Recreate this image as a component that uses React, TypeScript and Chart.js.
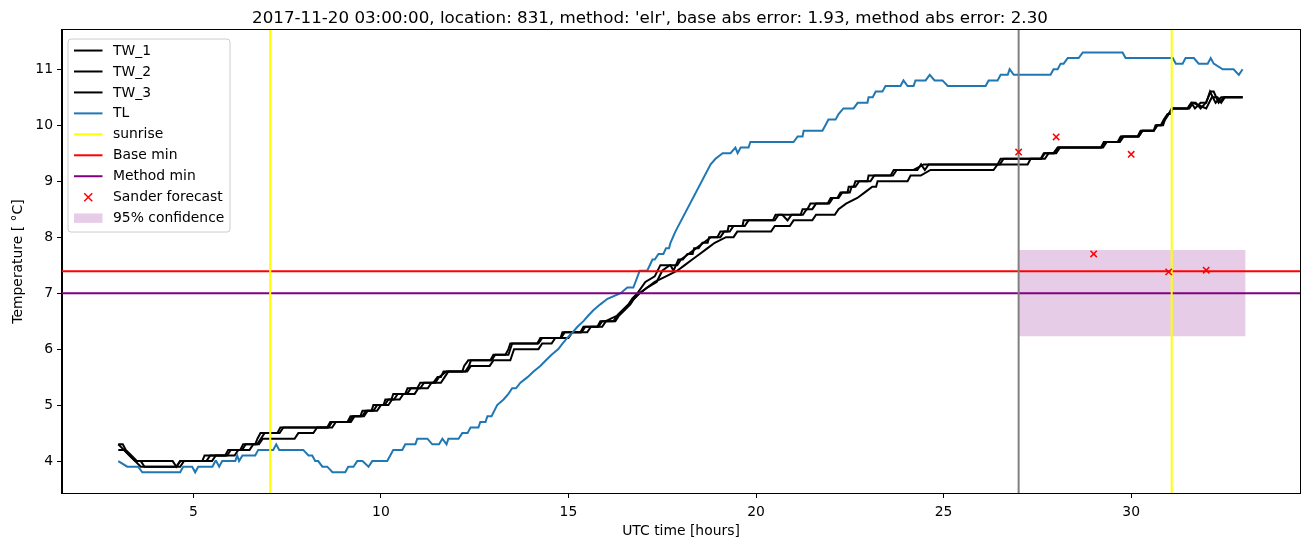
import React, { useEffect, useRef } from "react";
import { Chart, registerables } from "chart.js";

Chart.register(...registerables);

const TITLE =
  "2017-11-20 03:00:00, location: 831, method: 'elr', base abs error: 1.93, method abs error: 2.30";
const X_LABEL = "UTC time [hours]";
const Y_LABEL = "Temperature [ °C]";

const X_RANGE = [1.5, 34.5];
const Y_RANGE = [3.43, 11.7];
const X_TICKS = [5, 10, 15, 20, 25, 30];
const Y_TICKS = [4, 5, 6, 7, 8, 9, 10, 11];

// [hour, temperature]
const TW_1 = [
  [3.0, 4.3], [3.12, 4.3], [3.2, 4.2], [3.35, 4.1], [3.5, 4.0], [4.45, 4.0], [4.55, 3.9], [4.65, 4.0],
  [5.24, 4.0], [5.3, 4.1], [5.85, 4.1], [5.93, 4.2], [6.25, 4.2], [6.33, 4.3], [6.65, 4.3], [6.71, 4.4],
  [6.79, 4.5], [7.24, 4.5], [7.32, 4.6], [8.57, 4.6], [8.65, 4.7], [9.11, 4.7], [9.19, 4.8], [9.45, 4.8],
  [9.51, 4.9], [9.75, 4.9], [9.8, 5.0], [10.07, 5.0], [10.12, 5.1], [10.28, 5.1], [10.33, 5.2], [10.65, 5.2],
  [10.71, 5.3], [10.97, 5.3], [11.05, 5.4], [11.4, 5.4], [11.51, 5.5], [11.6, 5.5], [11.67, 5.6], [12.17, 5.6],
  [12.22, 5.7], [12.33, 5.8], [12.92, 5.8], [13.0, 5.9], [13.32, 5.9], [13.4, 6.0], [13.45, 6.1], [14.17, 6.1],
  [14.25, 6.2], [14.79, 6.2], [14.84, 6.3], [15.32, 6.3], [15.4, 6.4], [15.77, 6.4], [15.85, 6.5], [16.2, 6.5],
  [16.3, 6.6], [16.45, 6.7], [16.6, 6.8], [16.7, 6.9], [16.84, 7.0], [17.05, 7.2], [17.3, 7.3], [17.45, 7.5],
  [17.72, 7.5], [17.8, 7.4], [17.93, 7.6], [18.05, 7.6], [18.17, 7.7], [18.31, 7.7], [18.35, 7.8], [18.47, 7.8],
  [18.57, 7.9], [18.71, 7.9], [18.75, 8.0], [18.97, 8.0], [19.05, 8.1], [19.24, 8.1], [19.27, 8.2], [19.64, 8.2],
  [19.67, 8.3], [20.45, 8.3], [20.52, 8.4], [20.7, 8.4], [20.84, 8.3], [20.95, 8.4], [21.19, 8.4], [21.24, 8.5],
  [21.37, 8.5], [21.45, 8.6], [21.91, 8.6], [21.99, 8.7], [22.17, 8.7], [22.25, 8.8], [22.44, 8.8], [22.47, 8.9],
  [22.6, 8.9], [22.65, 9.0], [22.97, 9.0], [23.0, 9.1], [23.59, 9.1], [23.67, 9.2], [24.2, 9.2], [24.47, 9.3],
  [26.44, 9.3], [26.52, 9.4], [27.59, 9.4], [27.67, 9.5], [27.93, 9.5], [28.04, 9.6], [29.19, 9.6], [29.27, 9.7],
  [29.64, 9.7], [29.72, 9.8], [30.17, 9.8], [30.25, 9.9], [30.6, 9.9], [30.65, 10.0], [30.79, 10.0], [30.87, 10.1],
  [30.97, 10.2], [31.05, 10.2], [31.11, 10.3], [31.51, 10.3], [31.64, 10.4], [31.72, 10.4], [31.85, 10.3],
  [31.99, 10.4], [32.12, 10.6], [32.2, 10.6], [32.33, 10.4], [32.47, 10.5], [32.97, 10.5],
];

const TW_2 = [
  [3.0, 4.2], [3.15, 4.2], [3.3, 4.1], [3.45, 4.0], [3.6, 4.0], [3.7, 3.9], [4.55, 3.9], [4.65, 4.0],
  [5.35, 4.0], [5.45, 4.1], [5.9, 4.1], [6.0, 4.2], [6.3, 4.2], [6.4, 4.3], [6.7, 4.3], [6.8, 4.4], [6.9, 4.5],
  [7.3, 4.5], [7.4, 4.6], [8.6, 4.6], [8.7, 4.7], [9.15, 4.7], [9.25, 4.8], [9.5, 4.8], [9.6, 4.9], [9.8, 4.9],
  [9.9, 5.0], [10.1, 5.0], [10.2, 5.1], [10.35, 5.1], [10.45, 5.2], [10.7, 5.2], [10.8, 5.3], [11.05, 5.3],
  [11.15, 5.4], [11.45, 5.4], [11.55, 5.5], [11.75, 5.6], [12.25, 5.6], [12.35, 5.7], [12.4, 5.8], [12.95, 5.8],
  [13.05, 5.9], [13.4, 5.9], [13.5, 6.1], [14.2, 6.1], [14.3, 6.2], [14.8, 6.2], [14.9, 6.3], [15.35, 6.3],
  [15.45, 6.4], [15.8, 6.4], [15.9, 6.5], [16.25, 6.5], [16.35, 6.6], [16.5, 6.7], [16.65, 6.8], [16.75, 6.9],
  [16.9, 7.0], [17.1, 7.1], [17.35, 7.2], [17.5, 7.4], [17.7, 7.5], [17.9, 7.5], [18.0, 7.6], [18.2, 7.7],
  [18.4, 7.8], [18.6, 7.9], [18.8, 8.0], [19.05, 8.0], [19.15, 8.1], [19.3, 8.1], [19.4, 8.2], [19.7, 8.2],
  [19.8, 8.3], [20.5, 8.3], [20.6, 8.4], [21.25, 8.4], [21.35, 8.5], [21.5, 8.5], [21.6, 8.6], [21.95, 8.6],
  [22.05, 8.7], [22.2, 8.7], [22.3, 8.8], [22.5, 8.8], [22.55, 8.9], [22.65, 8.9], [22.75, 9.0], [23.05, 9.0],
  [23.15, 9.1], [23.65, 9.1], [23.75, 9.2], [24.3, 9.2], [24.4, 9.3], [24.5, 9.2], [24.6, 9.3], [26.5, 9.3],
  [26.6, 9.4], [27.6, 9.4], [27.7, 9.5], [27.95, 9.5], [28.05, 9.6], [29.2, 9.6], [29.3, 9.7], [29.65, 9.7],
  [29.75, 9.8], [30.2, 9.8], [30.3, 9.9], [30.6, 9.9], [30.7, 10.0], [30.8, 10.0], [30.9, 10.1], [31.0, 10.2],
  [31.08, 10.3], [31.5, 10.3], [31.6, 10.4], [31.7, 10.3], [31.85, 10.4], [32.0, 10.4], [32.1, 10.6],
  [32.25, 10.4], [32.4, 10.5], [32.97, 10.5],
];

const TW_3 = [
  [3.0, 4.3], [3.15, 4.2], [3.3, 4.1], [3.45, 4.0], [3.6, 3.9], [4.65, 3.9], [4.75, 4.0], [5.5, 4.0],
  [5.6, 4.1], [6.1, 4.1], [6.2, 4.2], [6.5, 4.2], [6.6, 4.3], [6.75, 4.3], [6.85, 4.4], [7.7, 4.4], [7.8, 4.5],
  [8.2, 4.5], [8.3, 4.6], [8.7, 4.6], [8.8, 4.7], [9.2, 4.7], [9.3, 4.8], [9.55, 4.8], [9.65, 4.9], [9.9, 4.9],
  [10.0, 5.0], [10.2, 5.0], [10.3, 5.1], [10.5, 5.1], [10.6, 5.2], [10.9, 5.2], [11.0, 5.3], [11.25, 5.3],
  [11.35, 5.4], [11.6, 5.4], [11.7, 5.5], [11.8, 5.6], [12.3, 5.6], [12.4, 5.7], [12.9, 5.7], [13.0, 5.8],
  [13.45, 5.8], [13.55, 6.0], [14.2, 6.0], [14.3, 6.1], [14.55, 6.1], [14.65, 6.2], [15.0, 6.2], [15.1, 6.3],
  [15.5, 6.3], [15.6, 6.4], [15.9, 6.4], [16.0, 6.5], [16.3, 6.6], [16.6, 6.8], [16.9, 7.0], [17.3, 7.2],
  [17.6, 7.3], [17.9, 7.4], [18.1, 7.5], [18.3, 7.6], [18.5, 7.7], [18.7, 7.8], [18.9, 7.9], [19.2, 8.0],
  [19.4, 8.0], [19.5, 8.1], [20.4, 8.1], [20.5, 8.2], [20.9, 8.2], [21.0, 8.3], [21.5, 8.3], [21.6, 8.4],
  [22.1, 8.4], [22.2, 8.5], [22.4, 8.6], [22.7, 8.7], [22.9, 8.8], [23.1, 8.9], [23.2, 8.9], [23.24, 9.0],
  [24.04, 9.0], [24.12, 9.1], [24.39, 9.1], [24.65, 9.2], [26.33, 9.2], [26.44, 9.3], [27.24, 9.3], [27.32, 9.4],
  [27.7, 9.4], [27.8, 9.5], [28.0, 9.5], [28.1, 9.6], [29.25, 9.6], [29.35, 9.7], [29.7, 9.7], [29.8, 9.8],
  [30.2, 9.8], [30.3, 9.9], [30.6, 9.9], [30.7, 10.0], [30.85, 10.0], [30.9, 10.1], [31.0, 10.2], [31.1, 10.3],
  [31.55, 10.3], [31.65, 10.4], [32.0, 10.3], [32.15, 10.5], [32.3, 10.5], [32.4, 10.4], [32.5, 10.5],
  [32.97, 10.5],
];

const TL = [
  [3.0, 4.0], [3.24, 3.9], [3.53, 3.9], [3.64, 3.8], [4.65, 3.8], [4.73, 3.9], [4.97, 3.9], [5.05, 3.8],
  [5.13, 3.9], [5.51, 3.9], [5.59, 4.0], [5.61, 4.0], [5.69, 3.9], [5.77, 4.0], [6.12, 4.0], [6.17, 4.1],
  [6.22, 4.0], [6.31, 4.1], [6.65, 4.1], [6.73, 4.2], [7.13, 4.2], [7.21, 4.3], [7.29, 4.2], [7.93, 4.2],
  [8.07, 4.1], [8.17, 4.1], [8.25, 4.0], [8.33, 4.0], [8.44, 3.9], [8.57, 3.9], [8.71, 3.8], [9.05, 3.8],
  [9.13, 3.9], [9.27, 3.9], [9.37, 4.0], [9.51, 4.0], [9.67, 3.9], [9.77, 4.0], [10.17, 4.0], [10.25, 4.1],
  [10.33, 4.2], [10.57, 4.2], [10.65, 4.3], [10.92, 4.3], [10.97, 4.4], [11.24, 4.4], [11.37, 4.3], [11.55, 4.3],
  [11.64, 4.4], [11.75, 4.3], [11.8, 4.4], [12.07, 4.4], [12.17, 4.5], [12.31, 4.5], [12.39, 4.6], [12.6, 4.6],
  [12.65, 4.7], [12.79, 4.7], [12.84, 4.8], [12.95, 4.8], [13.1, 5.0], [13.27, 5.1], [13.4, 5.2], [13.5, 5.3],
  [13.6, 5.3], [13.72, 5.4], [13.91, 5.5], [14.07, 5.6], [14.25, 5.7], [14.4, 5.8], [14.55, 5.9], [14.73, 6.0],
  [14.84, 6.1], [14.97, 6.2], [15.11, 6.3], [15.24, 6.4], [15.4, 6.5], [15.53, 6.6], [15.67, 6.7], [15.85, 6.8],
  [16.04, 6.9], [16.39, 7.0], [16.57, 7.1], [16.73, 7.1], [16.9, 7.4], [17.1, 7.4], [17.24, 7.6], [17.3, 7.6],
  [17.4, 7.7], [17.53, 7.7], [17.6, 7.8], [17.68, 7.8], [17.72, 7.9], [17.85, 8.1], [18.79, 9.3], [18.92, 9.4],
  [19.11, 9.5], [19.32, 9.5], [19.45, 9.6], [19.51, 9.5], [19.59, 9.6], [19.8, 9.6], [19.85, 9.7], [21.0, 9.7],
  [21.11, 9.8], [21.24, 9.8], [21.27, 9.9], [21.77, 9.9], [21.85, 10.0], [21.93, 10.1], [22.12, 10.1],
  [22.2, 10.2], [22.33, 10.3], [22.6, 10.3], [22.71, 10.4], [22.97, 10.4], [23.0, 10.5], [23.11, 10.5],
  [23.19, 10.6], [23.37, 10.6], [23.45, 10.7], [23.85, 10.7], [23.93, 10.8], [24.04, 10.7], [24.2, 10.7],
  [24.25, 10.8], [24.52, 10.8], [24.63, 10.9], [24.76, 10.8], [24.97, 10.8], [25.11, 10.7], [26.12, 10.7],
  [26.2, 10.8], [26.44, 10.8], [26.52, 10.9], [26.71, 10.9], [26.76, 11.0], [26.87, 10.9], [27.85, 10.9],
  [27.93, 11.0], [28.04, 11.0], [28.12, 11.1], [28.2, 11.1], [28.31, 11.2], [28.6, 11.2], [28.71, 11.3],
  [29.77, 11.3], [29.85, 11.2], [31.11, 11.2], [31.19, 11.1], [31.37, 11.1], [31.45, 11.2], [31.67, 11.2],
  [31.8, 11.1], [32.04, 11.1], [32.12, 11.2], [32.2, 11.1], [32.44, 11.0], [32.73, 11.0], [32.87, 10.9],
  [32.97, 11.0],
];

const SUNRISE_HOURS = [7.05, 31.08];
const FORECAST_START = 27;
const BASE_MIN = 7.39;
const METHOD_MIN = 7.0;
const FORECAST_HOURS = [27, 28, 29, 30, 31, 32];
const FORECAST_VALUES = [9.52, 9.79, 7.7, 9.48, 7.38, 7.41];
const CONF_HOURS = [27, 33.05];
const CONF_LOW = 6.23;
const CONF_HIGH = 7.77;

const FONT = "'DejaVu Sans', sans-serif";

const pts = (arr: number[][]) => arr.map(([x, y]) => ({ x, y }));

const LEGEND_ITEMS = [
  { label: "TW_1", kind: "line", color: "#000000" },
  { label: "TW_2", kind: "line", color: "#000000" },
  { label: "TW_3", kind: "line", color: "#000000" },
  { label: "TL", kind: "line", color: "#1f77b4" },
  { label: "sunrise", kind: "line", color: "#ffff00" },
  { label: "Base min", kind: "line", color: "#ff0000" },
  { label: "Method min", kind: "line", color: "#800080" },
  { label: "Sander forecast", kind: "marker", color: "#ff0000" },
  { label: "95% confidence", kind: "patch", color: "rgba(128,0,128,0.2)" },
];

const framePlugin = {
  id: "mplFrame",
  afterDatasetsDraw(chart: any) {
    const ctx = chart.ctx;
    const a = chart.chartArea;
    ctx.save();
    ctx.strokeStyle = "#000";
    ctx.lineWidth = 1;
    ctx.strokeRect(Math.round(a.left) - 0.5, Math.round(a.top) - 0.5, Math.round(a.right - a.left) + 1, Math.round(a.bottom - a.top) + 1);

    // legend
    const bx = a.left + 6;
    const by = a.top + 9;
    const bw = 162;
    const bh = 193;
    ctx.beginPath();
    const r = 3;
    ctx.moveTo(bx + r, by);
    ctx.lineTo(bx + bw - r, by);
    ctx.quadraticCurveTo(bx + bw, by, bx + bw, by + r);
    ctx.lineTo(bx + bw, by + bh - r);
    ctx.quadraticCurveTo(bx + bw, by + bh, bx + bw - r, by + bh);
    ctx.lineTo(bx + r, by + bh);
    ctx.quadraticCurveTo(bx, by + bh, bx, by + bh - r);
    ctx.lineTo(bx, by + r);
    ctx.quadraticCurveTo(bx, by, bx + r, by);
    ctx.closePath();
    ctx.fillStyle = "rgba(255,255,255,0.8)";
    ctx.fill();
    ctx.strokeStyle = "#cccccc";
    ctx.lineWidth = 1;
    ctx.stroke();

    ctx.font = `13.9px ${FONT}`;
    ctx.textBaseline = "middle";
    ctx.textAlign = "left";
    LEGEND_ITEMS.forEach((it, i) => {
      const cy = by + 11.5 + i * 20.95;
      const x0 = bx + 6;
      const x1 = bx + 34.5;
      if (it.kind === "line") {
        ctx.strokeStyle = it.color;
        ctx.lineWidth = 2;
        ctx.beginPath();
        ctx.moveTo(x0, cy);
        ctx.lineTo(x1, cy);
        ctx.stroke();
      } else if (it.kind === "marker") {
        const cx = (x0 + x1) / 2;
        const s = 4;
        ctx.strokeStyle = it.color;
        ctx.lineWidth = 1.5;
        ctx.beginPath();
        ctx.moveTo(cx - s, cy - s);
        ctx.lineTo(cx + s, cy + s);
        ctx.moveTo(cx - s, cy + s);
        ctx.lineTo(cx + s, cy - s);
        ctx.stroke();
      } else {
        ctx.fillStyle = it.color;
        ctx.fillRect(x0, cy - 4.7, x1 - x0, 9.4);
      }
      ctx.fillStyle = "#000";
      ctx.fillText(it.label, bx + 45, cy + 0.5);
    });
    ctx.restore();
  },
};

export default function App() {
  const ref = useRef<HTMLCanvasElement | null>(null);

  useEffect(() => {
    document.body.style.margin = "0";
    const canvas = ref.current;
    if (!canvas) return;

    const lineDs = (label: string, data: any[], color: string, order: number, extra: any = {}) => ({
      label,
      data,
      borderColor: color,
      backgroundColor: color,
      borderWidth: 2,
      pointRadius: 0,
      fill: false,
      tension: 0,
      order,
      ...extra,
    });

    const sunriseData: any[] = [];
    SUNRISE_HOURS.forEach((h, i) => {
      if (i > 0) sunriseData.push({ x: h - 0.001, y: null });
      sunriseData.push({ x: h, y: Y_RANGE[0] - 1 }, { x: h, y: Y_RANGE[1] + 1 });
    });

    const chart = new Chart(canvas, {
      type: "line",
      data: {
        datasets: [
          {
            label: "Sander forecast",
            data: FORECAST_HOURS.map((h, i) => ({ x: h, y: FORECAST_VALUES[i] })),
            showLine: false,
            pointStyle: "crossRot",
            pointRadius: 4.5,
            pointBorderWidth: 1.5,
            pointBorderColor: "#ff0000",
            pointBackgroundColor: "#ff0000",
            borderColor: "#ff0000",
            order: 0,
          } as any,
          lineDs("sunrise", sunriseData, "#ffff00", 1, { spanGaps: false }),
          lineDs("", [{ x: FORECAST_START, y: Y_RANGE[0] - 1 }, { x: FORECAST_START, y: Y_RANGE[1] + 1 }], "#808080", 1),
          lineDs("Base min", [{ x: X_RANGE[0], y: BASE_MIN }, { x: X_RANGE[1], y: BASE_MIN }], "#ff0000", 2),
          lineDs("Method min", [{ x: X_RANGE[0], y: METHOD_MIN }, { x: X_RANGE[1], y: METHOD_MIN }], "#800080", 3),
          lineDs("TL", pts(TL), "#1f77b4", 4),
          lineDs("TW_3", pts(TW_3), "#000000", 5),
          lineDs("TW_2", pts(TW_2), "#000000", 6),
          lineDs("TW_1", pts(TW_1), "#000000", 7),
          {
            label: "95% confidence",
            data: CONF_HOURS.map((h) => ({ x: h, y: CONF_HIGH })),
            borderWidth: 0,
            borderColor: "rgba(0,0,0,0)",
            backgroundColor: "rgba(128,0,128,0.2)",
            pointRadius: 0,
            fill: { value: CONF_LOW },
            order: 10,
          } as any,
        ],
      },
      options: {
        animation: false,
        responsive: false,
        maintainAspectRatio: false,
        layout: { padding: { left: 0, right: 11, top: 0, bottom: 0 } },
        plugins: {
          legend: { display: false },
          tooltip: { enabled: false },
          title: {
            display: true,
            text: TITLE,
            color: "#000",
            font: { family: FONT, size: 16.7, weight: "normal" as any },
            padding: { top: 9, bottom: 1 },
          },
        },
        scales: {
          x: {
            type: "linear",
            min: X_RANGE[0],
            max: X_RANGE[1],
            afterBuildTicks: (s: any) => {
              s.ticks = X_TICKS.map((v) => ({ value: v }));
            },
            afterFit: (s: any) => {
              s.height = 54;
            },
            grid: { drawOnChartArea: false, drawTicks: true, tickLength: 5, color: "#000", lineWidth: 1 },
            border: { display: true, color: "#000", width: 1 },
            ticks: { color: "#000", font: { family: FONT, size: 13.9 }, padding: 6, maxRotation: 0, autoSkip: false },
            title: {
              display: true,
              text: X_LABEL,
              color: "#000",
              font: { family: FONT, size: 13.9 },
              padding: { top: 2, bottom: 7 },
            },
          },
          y: {
            type: "linear",
            min: Y_RANGE[0],
            max: Y_RANGE[1],
            afterBuildTicks: (s: any) => {
              s.ticks = Y_TICKS.map((v) => ({ value: v }));
            },
            afterFit: (s: any) => {
              s.width = 62;
            },
            grid: { drawOnChartArea: false, drawTicks: true, tickLength: 5, color: "#000", lineWidth: 1 },
            border: { display: true, color: "#000", width: 1 },
            ticks: { color: "#000", font: { family: FONT, size: 13.9 }, padding: 4, autoSkip: false },
            title: {
              display: true,
              text: Y_LABEL,
              color: "#000",
              font: { family: FONT, size: 13.9 },
              padding: { top: 10, bottom: 4 },
            },
          },
        },
      },
      plugins: [framePlugin],
    });

    return () => chart.destroy();
  }, []);

  return (
    <div style={{ position: "absolute", left: 0, top: 0, width: 1311, height: 547, background: "#fff" }}>
      <canvas ref={ref} width={1311} height={547} style={{ display: "block" }} />
    </div>
  );
}
